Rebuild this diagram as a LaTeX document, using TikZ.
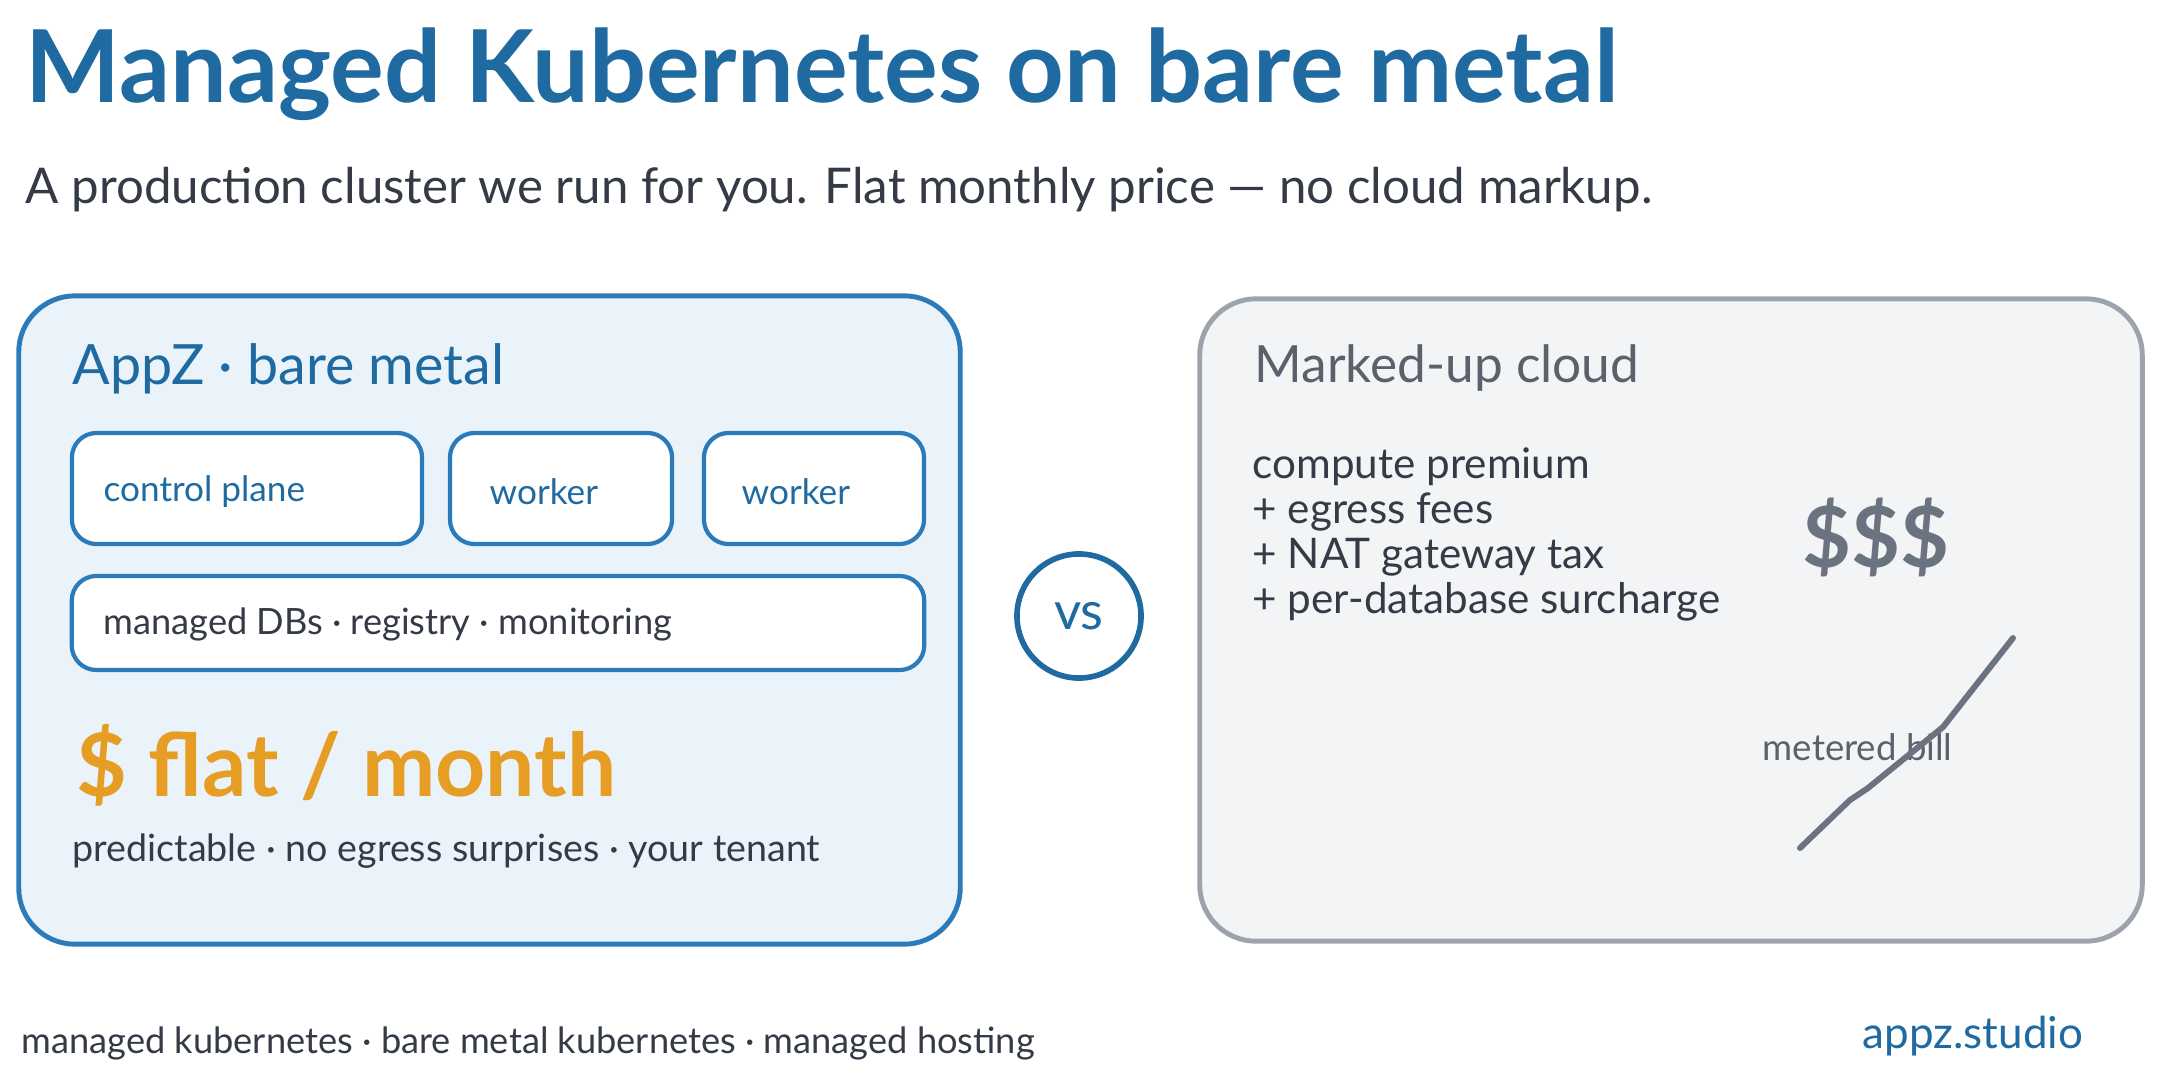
\documentclass[tikz,border=0pt]{standalone}
\usepackage{fontspec}
\setmainfont{Lato}
\usepackage{tikz}
\usetikzlibrary{positioning}

\definecolor{titleblue}{HTML}{1F6AA0}
\definecolor{boxblue}{HTML}{2B7BBA}
\definecolor{panelblue}{HTML}{EAF2FA}
\definecolor{flatorange}{HTML}{E59E23}
\definecolor{inkdark}{HTML}{343A46}
\definecolor{cloudgray}{HTML}{5B616C}
\definecolor{edgegray}{HTML}{9CA3AD}
\definecolor{panelgray}{HTML}{F2F4F6}
\definecolor{billgray}{HTML}{6B7280}

\begin{document}
\begin{tikzpicture}[
  x=0.01cm, y=-0.01cm,
  panel/.style={draw, line width=1.4pt, rounded corners=16pt, inner sep=0pt},
  unit/.style={draw=boxblue, fill=white, line width=1.2pt, rounded corners=7pt,
               inner sep=0pt, minimum height=1.11cm},
  txt/.style={anchor=west, inner sep=0pt},
  fs/.style args={#1/#2}{font=\fontsize{#1}{#2}\selectfont}
]
  \useasboundingbox[fill=white] (0,0) rectangle (2160,1084);

  % heading
  \node[txt, text=titleblue, fs=28.6/34] (title) at (25,74) {\bfseries Managed Kubernetes on bare metal};
  \node[txt, text=inkdark, fs=14/17] (sub) at (25,190)
    {A production cluster we run for you. Flat monthly price — no cloud markup.};

  % left panel
  \node[panel, draw=boxblue, fill=panelblue, minimum width=9.41cm, minimum height=6.48cm]
    (metal) at (489.5,620) {};
  \node[txt, text=titleblue, fs=15.8/19] (metaltitle) at (72,369) {AppZ · bare metal};
  \node[unit, minimum width=3.50cm] (cp) at (247,488.5) {};
  \node[unit, minimum width=2.22cm] (w1) at (561,488.5) {};
  \node[unit, minimum width=2.20cm] (w2) at (814,488.5) {};
  \node[unit, minimum width=8.52cm, minimum height=0.94cm] (svc) at (498,623) {};
  \node[txt, text=titleblue, fs=10/12] (cplabel) at (103,492) {control plane};
  \node[txt, text=titleblue, fs=10/12] (w1label) at (489,492) {worker};
  \node[txt, text=titleblue, fs=10/12] (w2label) at (741,492) {worker};
  \node[txt, text=inkdark, fs=10.3/12] (svclabel) at (103,624) {managed DBs · registry · monitoring};
  \node[txt, text=flatorange, fs=24.9/29] (flat) at (76,765) {\bfseries \$ flat / month};
  \node[txt, text=inkdark, fs=10.7/13] (perks) at (72,851) {predictable · no egress surprises · your tenant};

  % versus
  \node[circle, draw=titleblue, line width=1.6pt, minimum size=1.24cm, inner sep=0pt,
        text=titleblue, fs=15/18] (vs) at (1079,616) {vs};

  % right panel
  \node[panel, draw=edgegray, fill=panelgray, minimum width=9.42cm, minimum height=6.42cm]
    (cloud) at (1671,620) {};
  \node[txt, text=cloudgray, fs=14.6/18] (cloudtitle) at (1254,368) {Marked-up cloud};
  \node[txt, text=inkdark, fs=12/14] (c1) at (1252,467) {compute premium};
  \node[txt, text=inkdark, fs=12/14] (c2) at (1252,512) {+ egress fees};
  \node[txt, text=inkdark, fs=12/14] (c3) at (1252,557) {+ NAT gateway tax};
  \node[txt, text=inkdark, fs=12/14] (c4) at (1252,602) {+ per-database surcharge};
  \node[txt, text=billgray, fs=24/28] (dollars) at (1802,537) {\bfseries \$\$\$};
  \node[txt, text=cloudgray, fs=10.4/12] (bill) at (1762,747) {metered bill};
  \coordinate (b0) at (1800,848);
  \coordinate (b1) at (1850,800);
  \coordinate (b2) at (1868,788);
  \coordinate (b3) at (1943,727);
  \coordinate (b4) at (2013,638);
  \draw[billgray, line width=1.7pt, line cap=round, line join=round]
    (b0) -- (b1) -- (b2) -- (b3) -- (b4);

  % footer
  \node[txt, text=inkdark, fs=10.3/12] (tags) at (21,1043)
    {managed kubernetes · bare metal kubernetes · managed hosting};
  \node[txt, text=titleblue, fs=12.5/15] (site) at (1862,1036) {appz.studio};
\end{tikzpicture}
\end{document}
